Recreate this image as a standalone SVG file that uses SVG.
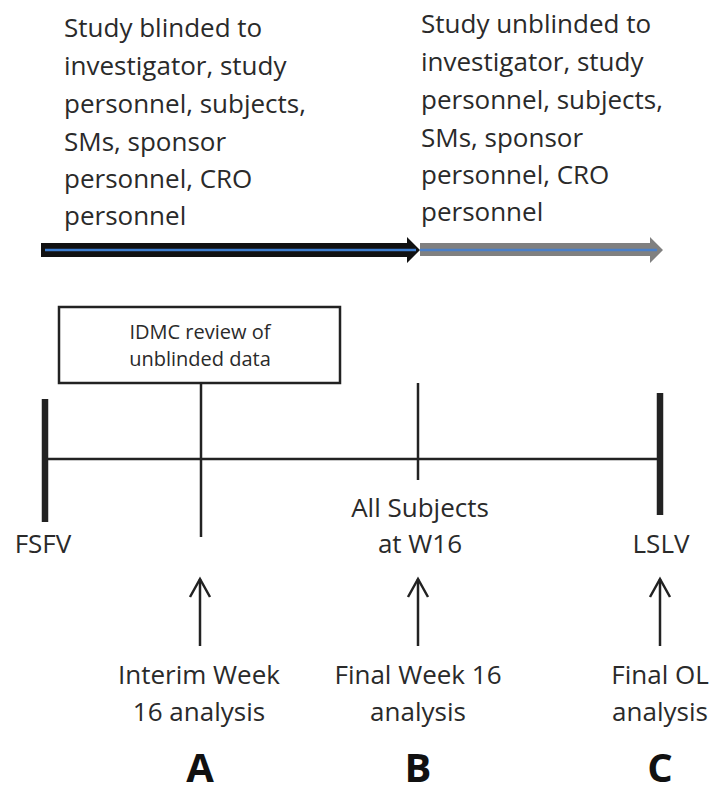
<svg xmlns="http://www.w3.org/2000/svg" width="713" height="796" viewBox="0 0 713 796">
<style>
  text { font-family: "Open Sans", "Noto Sans", "Liberation Sans", sans-serif; fill: #2a2a2a; }
  .top { font-size: 26px; }
  .lab { font-size: 26px; text-anchor: middle; }
  .box { font-size: 20px; text-anchor: middle; }
  .big { font-size: 40px; font-weight: bold; text-anchor: middle; fill: #111; }
  .ln { stroke: #222; stroke-width: 2.5; fill: none; }
  .thick { stroke: #222; stroke-width: 6.5; fill: none; }
  .up { stroke: #222; stroke-width: 2.5; fill: none; }
</style>
<rect width="713" height="796" fill="#fff"/>

<g id="blinded-text">
  <text class="top" x="64" y="37">Study blinded to</text>
  <text class="top" x="64" y="75">investigator, study</text>
  <text class="top" x="64" y="113">personnel, subjects,</text>
  <text class="top" x="64" y="151">SMs, sponsor</text>
  <text class="top" x="64" y="188">personnel, CRO</text>
  <text class="top" x="64" y="225">personnel</text>
</g>
<g id="unblinded-text">
  <text class="top" x="421" y="33">Study unblinded to</text>
  <text class="top" x="421" y="71">investigator, study</text>
  <text class="top" x="421" y="109">personnel, subjects,</text>
  <text class="top" x="421" y="147">SMs, sponsor</text>
  <text class="top" x="421" y="184">personnel, CRO</text>
  <text class="top" x="421" y="221">personnel</text>
</g>

<g id="phase-arrows">
  <polygon points="420,243 650,243 650,237 663,250 650,263 650,256 420,256" fill="#808080"/>
  <polygon points="41,243 407,243 407,237 420,250 407,263 407,257 41,257" fill="#111"/>
  <line x1="45" y1="250" x2="416" y2="250" stroke="#3d7ed0" stroke-width="2.5"/>
  <line x1="420" y1="250" x2="657" y2="250" stroke="#4a7fc8" stroke-width="2.5"/>
</g>

<g id="idmc-box">
  <rect x="59" y="307" width="281" height="76" fill="#fff" stroke="#222" stroke-width="2.5"/>
  <text class="box" x="200" y="339">IDMC review of</text>
  <text class="box" x="200" y="366">unblinded data</text>
</g>

<g id="connectors">
  <line class="ln" x1="45" y1="459" x2="660" y2="459"/>
  <line class="ln" x1="201" y1="383" x2="201" y2="537"/>
  <line class="ln" x1="418" y1="383" x2="418" y2="480"/>
  <line class="thick" x1="45" y1="399" x2="45" y2="522"/>
  <line class="thick" x1="660" y1="393" x2="660" y2="515"/>
  <g class="up">
    <line x1="200" y1="579" x2="200" y2="646"/>
    <polyline points="190,597 200,579 210,597"/>
    <line x1="418" y1="579" x2="418" y2="646"/>
    <polyline points="408,597 418,579 428,597"/>
    <line x1="660" y1="579" x2="660" y2="646"/>
    <polyline points="650,597 660,579 670,597"/>
  </g>
</g>

<g id="fsfv"><text class="lab" x="43" y="553">FSFV</text></g>
<g id="w16">
  <text class="lab" x="420" y="517">All Subjects</text>
  <text class="lab" x="420" y="553">at W16</text>
</g>
<g id="lslv"><text class="lab" x="661" y="553">LSLV</text></g>

<g id="analysis-a">
  <text class="lab" x="199" y="684">Interim Week</text>
  <text class="lab" x="199" y="721">16 analysis</text>
  <text class="big" x="200" y="782">A</text>
</g>
<g id="analysis-b">
  <text class="lab" x="418" y="684">Final Week 16</text>
  <text class="lab" x="418" y="721">analysis</text>
  <text class="big" x="418" y="782">B</text>
</g>
<g id="analysis-c">
  <text class="lab" x="660" y="684">Final OL</text>
  <text class="lab" x="660" y="721">analysis</text>
  <text class="big" x="660" y="782">C</text>
</g>
</svg>
